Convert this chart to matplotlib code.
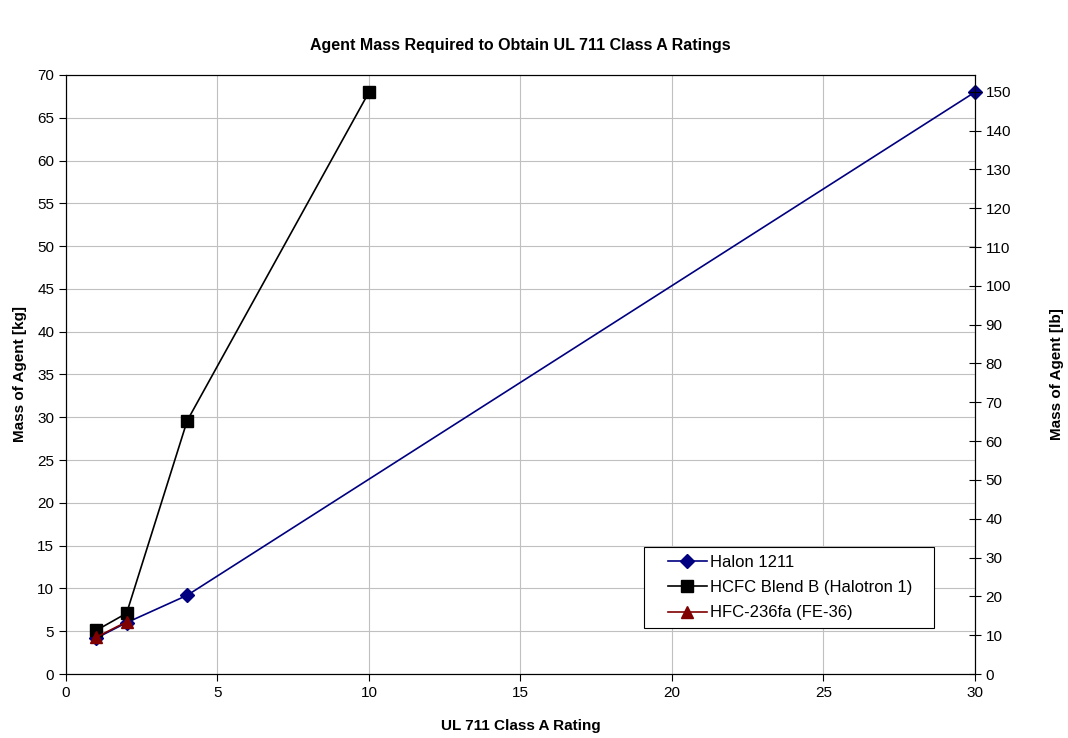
import matplotlib
matplotlib.use("Agg")
import matplotlib.pyplot as plt
from matplotlib.legend_handler import HandlerLine2D

plt.rcParams['font.family'] = ['Liberation Sans', 'DejaVu Sans']

# UL 711 class A rating vs agent mass [kg]
halon_x = [1, 2, 4, 30]
halon_y = [4.2, 6.0, 9.2, 68.0]
hcfc_x = [1, 2, 4, 10]
hcfc_y = [5.1, 7.1, 29.6, 68.0]
hfc_x = [1, 2]
hfc_y = [4.3, 6.1]

KG_TO_LB = 2.20462


class ShiftedLine(HandlerLine2D):
    # legend line drawn only in the right part of the handle box
    def __init__(self, offset, **kw):
        super().__init__(**kw)
        self.offset = offset

    def create_artists(self, legend, orig_handle, xdescent, ydescent,
                       width, height, fontsize, trans):
        return super().create_artists(legend, orig_handle,
                                      xdescent - self.offset, ydescent,
                                      width - self.offset, height,
                                      fontsize, trans)


fig = plt.figure(figsize=(10.68, 7.38), dpi=100)
ax = fig.add_axes([0.0618, 0.0867, 0.8511, 0.8117])

l1, = ax.plot(halon_x, halon_y, color='#000080', marker='D', markersize=7, lw=1.2,
              label='Halon 1211', clip_on=False, zorder=3)
l2, = ax.plot(hcfc_x, hcfc_y, color='black', marker='s', markersize=9, lw=1.2,
              label='HCFC Blend B (Halotron 1)', zorder=3)
l3, = ax.plot(hfc_x, hfc_y, color='#800000', marker='^', markersize=9, lw=1.2,
              label='HFC-236fa (FE-36)', zorder=3)

ax.set_xlim(0, 30)
ax.set_ylim(0, 70)
ax.set_xticks(range(0, 31, 5))
ax.set_yticks(range(0, 71, 5))
ax.grid(True, color='#c0c0c0', lw=0.8)
ax.set_axisbelow(True)
ax.tick_params(labelsize=11, direction='out', length=5)
for s in ax.spines.values():
    s.set_color('black')

ax.set_xlabel('UL 711 Class A Rating', fontsize=11, fontweight='bold', labelpad=14)
ax.set_ylabel('Mass of Agent [kg]', fontsize=11, fontweight='bold', labelpad=7)
ax.set_title('Agent Mass Required to Obtain UL 711 Class A Ratings',
             fontsize=11.5, fontweight='bold', pad=18)

ax2 = ax.twinx()
ax2.set_ylim(0, 70 * KG_TO_LB)
ax2.set_yticks(range(0, 151, 10))
ax2.tick_params(labelsize=11, direction='inout', length=8)
ax2.set_ylabel('Mass of Agent [lb]', fontsize=11, fontweight='bold', labelpad=28)

hmap = {l: ShiftedLine(12) for l in (l1, l2, l3)}
leg = ax.legend(loc='lower left', bbox_to_anchor=(0.636, 0.077, 0.319, 0.13),
                mode='expand', fontsize=12, handler_map=hmap,
                frameon=True, fancybox=False, edgecolor='black', framealpha=1,
                handlelength=3.3, borderpad=0.45, labelspacing=0.62,
                handletextpad=0.2, borderaxespad=0)
leg.get_frame().set_linewidth(0.8)

fig.savefig('out.png', dpi=100)
